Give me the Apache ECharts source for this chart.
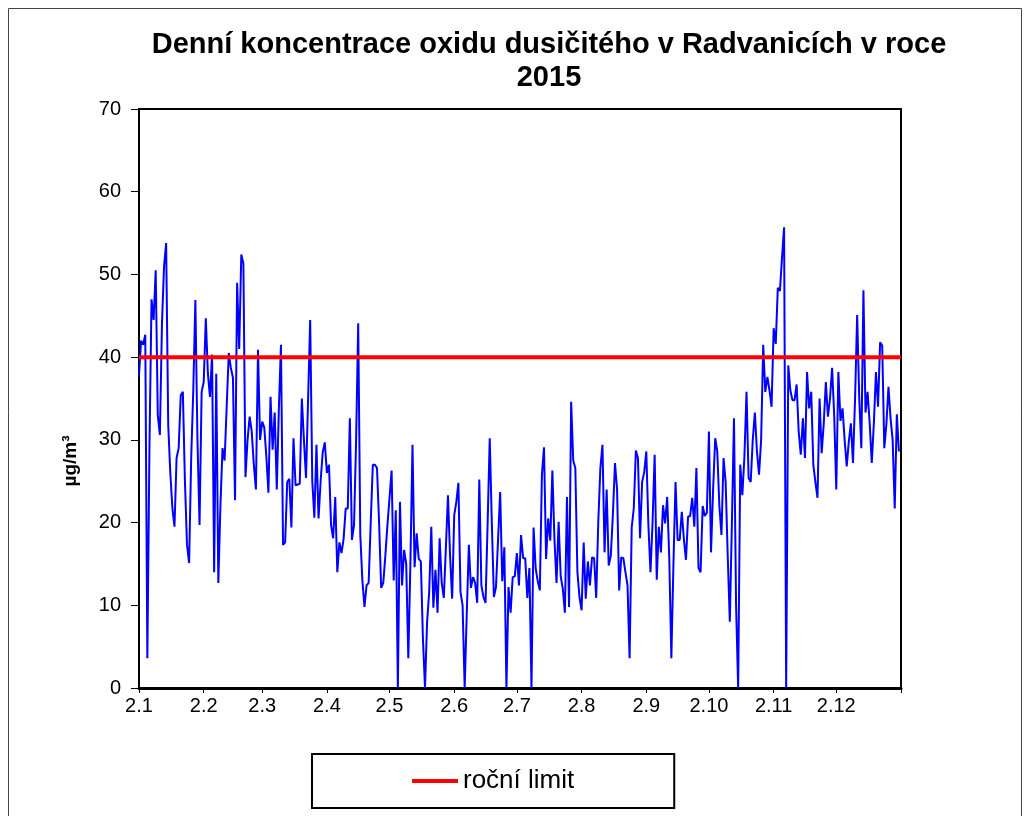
<!DOCTYPE html>
<html>
<head>
<meta charset="utf-8">
<title>NO2 Radvanice 2015</title>
<script src="https://cdn.jsdelivr.net/npm/echarts@6/dist/echarts.min.js"></script>
<style>
  html, body { margin: 0; padding: 0; background: #ffffff; }
  #chart { width: 1026px; height: 816px; }
</style>
</head>
<body>
<div id="chart"></div>
<script>
// Daily mean NO2 concentration (µg/m³), day index 0 = 1 January 2015
const no2Daily = [
  37.8, 42, 41.5, 42.7, 3.6, 29, 47, 44.5, 50.5, 33,
  30.6, 44, 51, 53.8, 31.8, 26, 21.7, 19.5, 27.8, 29,
  35.4, 35.8, 25, 17.3, 15.1, 27.8, 36, 46.9, 30, 19.7,
  35.8, 37, 44.7, 38, 35.2, 40.3, 14, 38, 12.7, 22,
  29, 27.5, 34, 40.5, 38.7, 37.5, 22.7, 49, 41, 52.4,
  51.3, 25.5, 30, 32.8, 31, 27, 24, 40.9, 30, 32.2,
  31.5, 28, 23.6, 35.2, 28.8, 33.3, 24, 33.8, 41.5, 17.3,
  17.6, 24.9, 25.3, 19.4, 30.2, 24.5, 24.6, 24.7, 35, 30,
  25.4, 35, 44.5, 25, 20.6, 29.4, 20.5, 25, 28.5, 29.7,
  26, 27, 19.7, 18.1, 23.1, 14, 17.6, 16.3, 18, 21.7,
  21.7, 32.6, 17.9, 19.7, 30, 44.1, 18.5, 13, 9.8, 12.4,
  12.7, 20, 27, 27, 26.6, 20, 12.1, 12.7, 16, 19.7,
  23, 26.3, 13, 21.5, 0, 22.5, 12.4, 16.7, 15, 3.6,
  15, 29.4, 14.6, 18.7, 15.6, 15.3, 6, 0, 8, 11.6,
  19.5, 9.7, 14.3, 9.1, 18.1, 12.7, 10.9, 17, 23.3, 16,
  10.8, 20.9, 22.5, 24.8, 11.6, 10, 0, 9, 17.3, 12.1,
  13.4, 12.7, 10.3, 25.2, 12.4, 11, 10.3, 20, 30.2, 20,
  11, 12.2, 18, 23.7, 12.9, 17, 0, 12.2, 9.1, 13.4,
  13.5, 16.3, 12.4, 18.5, 15.7, 15.7, 10.9, 14.5, 0, 19.4,
  14.5, 12.9, 11.8, 25.8, 29.1, 15.6, 20.5, 17.8, 26.3, 18,
  12.7, 20.1, 13.5, 12, 9.1, 23.1, 9.8, 34.6, 27.5, 26.6,
  14, 11, 9.4, 17.6, 10.8, 15.3, 12.4, 15.8, 15.7, 10.9,
  20.1, 26.6, 29.4, 16.4, 24, 14.8, 16, 21, 27.2, 24,
  11.8, 15.8, 15.7, 14, 12.4, 3.6, 19.4, 21.7, 28.7, 27.8,
  18.1, 24.9, 26.1, 28.6, 19.7, 14, 20, 28.2, 13.1, 19.5,
  16.4, 22.1, 19.9, 23.1, 15.7, 3.6, 15, 24.9, 17.9, 17.9,
  21.3, 18, 15.5, 20.7, 20.8, 23, 19.5, 26.6, 14.5, 14,
  22, 20.8, 21.2, 31, 16.4, 24, 30.2, 28.6, 22, 18.5,
  27.8, 24.9, 16, 8, 20, 32.6, 10, 0, 27, 23.3,
  28, 35.8, 25.4, 24.9, 30, 33.3, 28.6, 25.8, 30, 41.5,
  35.8, 37.6, 36, 34, 43.5, 41.6, 48.4, 48, 52, 55.7,
  0, 39, 36, 34.8, 34.8, 36.7, 31, 28.2, 32.6, 27.8,
  38.2, 33.8, 35.8, 27, 24.9, 23, 35, 28.4, 32, 37,
  32.8, 35, 38.7, 33, 24, 38.2, 32.3, 33.8, 30, 26.8,
  29.8, 32, 27.2, 35, 45.1, 35, 29, 48.1, 33.3, 35.8,
  32, 27.2, 32, 38.2, 34, 41.8, 41.4, 29, 31.9, 36.4,
  32.6, 30, 21.7, 33.1, 28.6
];

// First day of each month (day index) and the tick labels shown there
const monthStarts = [0, 31, 59, 90, 120, 151, 181, 212, 243, 273, 304, 334];
const monthLabels = ['2.1', '2.2', '2.3', '2.4', '2.5', '2.6', '2.7', '2.8', '2.9', '2.10', '2.11', '2.12'];
const yearDays = 365;

// Annual limit value
const annualLimit = 40;
const limitName = 'roční limit';

const yTicks = [0, 10, 20, 30, 40, 50, 60, 70];

const FONT = '"Liberation Sans", Arial, sans-serif';

const seriesData = no2Daily.map((v, i) => [i, v]);
const limitData = [[0, annualLimit], [yearDays, annualLimit]];

const chart = echarts.init(document.getElementById('chart'), null, { renderer: 'canvas' });

chart.setOption({
  animation: false,
  backgroundColor: '#ffffff',
  title: {
    text: 'Denní koncentrace oxidu dusičitého v Radvanicích v roce\n2015',
    left: 544,
    top: 23,
    textAlign: 'center',
    textStyle: {
      fontFamily: FONT,
      fontWeight: 'bold',
      fontSize: 29,
      lineHeight: 33,
      color: '#000000'
    }
  },
  legend: {
    data: [limitName],
    left: 312,
    top: 754,
    padding: [14, 100, 14, 100],
    itemWidth: 46,
    itemHeight: 4,
    itemGap: 5,
    icon: 'rect',
    borderColor: '#000000',
    borderWidth: 2,
    textStyle: { fontFamily: FONT, fontSize: 26, color: '#000000' }
  },
  grid: {
    left: 139,
    right: 125,
    top: 109,
    bottom: 128,
    show: true,
    borderColor: '#000000',
    borderWidth: 2,
    containLabel: false
  },
  xAxis: {
    type: 'value',
    min: 0,
    max: yearDays,
    splitLine: { show: false },
    axisLine: { show: true, onZero: false, lineStyle: { color: '#000000', width: 3 } },
    axisTick: {
      show: true,
      length: 5,
      inside: false,
      customValues: monthStarts.concat([yearDays]),
      lineStyle: { color: '#000000', width: 1 }
    },
    axisLabel: {
      customValues: monthStarts,
      margin: 8,
      fontFamily: FONT,
      fontSize: 20,
      color: '#000000',
      formatter: function (v) {
        const k = monthStarts.indexOf(v);
        return k >= 0 ? monthLabels[k] : '';
      }
    }
  },
  yAxis: {
    type: 'value',
    min: yTicks[0],
    max: yTicks[yTicks.length - 1],
    interval: 10,
    splitLine: { show: false },
    axisLine: { show: true, lineStyle: { color: '#000000', width: 2 } },
    axisTick: { show: true, length: 8, lineStyle: { color: '#000000', width: 1 } },
    axisLabel: {
      margin: 18,
      fontFamily: FONT,
      fontSize: 20,
      color: '#000000'
    }
  },
  graphic: [
    {
      type: 'rect',
      shape: { x: 8.5, y: 8.5, width: 1013, height: 900 },
      style: { fill: 'none', stroke: '#444444', lineWidth: 1 },
      silent: true,
      z: -1
    },
    {
      type: 'text',
      x: 71,
      y: 461,
      rotation: Math.PI / 2,
      style: {
        text: 'µg/m³',
        fontFamily: FONT,
        fontWeight: 'bold',
        fontSize: 19,
        fill: '#000000',
        align: 'center',
        verticalAlign: 'middle'
      }
    }
  ],
  series: [
    {
      name: 'NO2',
      type: 'line',
      data: seriesData,
      showSymbol: false,
      symbol: 'none',
      lineStyle: { color: '#0000ff', width: 2 },
      itemStyle: { color: '#0000ff' },
      z: 2
    },
    {
      name: limitName,
      type: 'line',
      data: limitData,
      showSymbol: false,
      symbol: 'none',
      lineStyle: { color: '#ff0000', width: 4 },
      itemStyle: { color: '#ff0000' },
      z: 3
    }
  ]
});
</script>
</body>
</html>
